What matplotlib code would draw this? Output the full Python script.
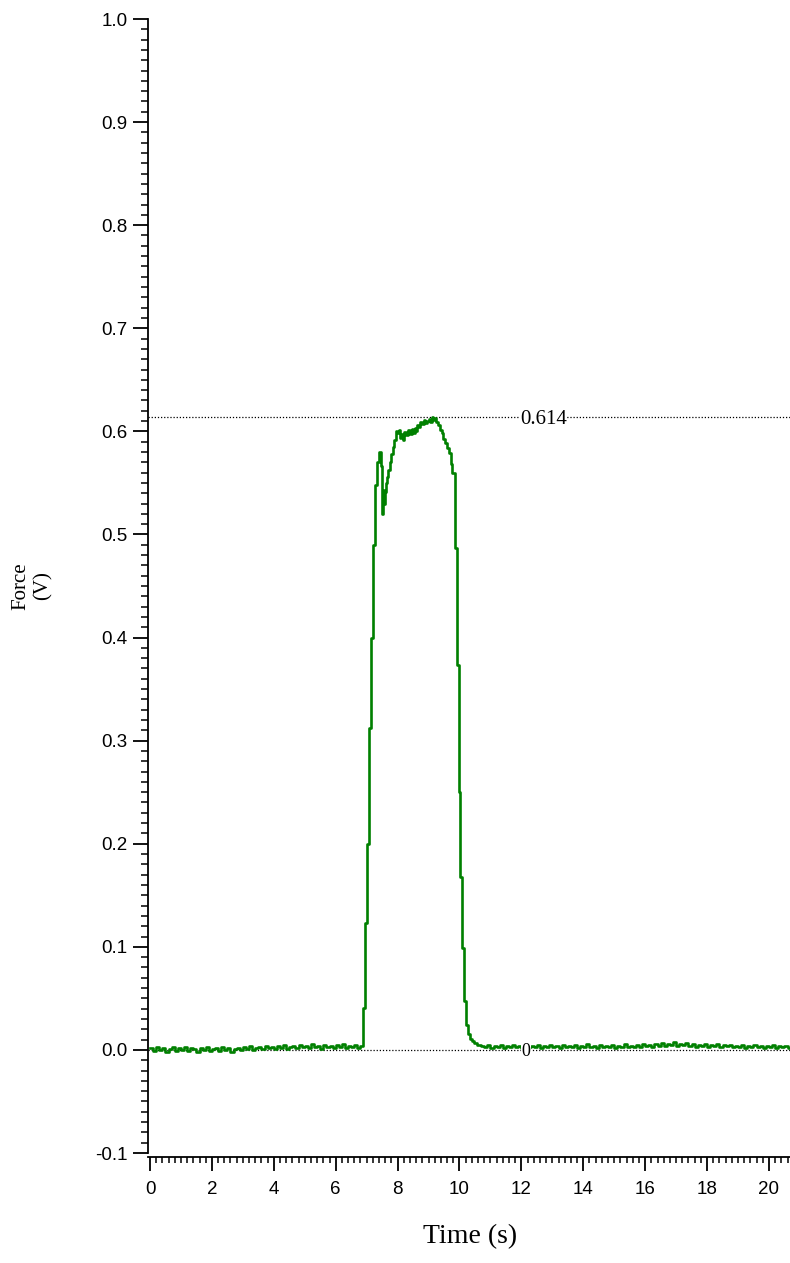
import matplotlib
matplotlib.use("Agg")
import matplotlib.pyplot as plt
import numpy as np
from matplotlib.ticker import MultipleLocator

# baseline before the press, sampled every 0.1 s from 0.0 to 6.8 s
pre_t = np.round(np.arange(0.0, 6.85, 0.1), 2)
pre_v = [0.002, -0.001, 0.003, 0.000, 0.002, -0.002, 0.001, 0.003, -0.001, 0.002,
         0.000, 0.003, -0.001, 0.002, 0.001, -0.002, 0.002, 0.000, 0.003, -0.001,
         0.001, 0.002, -0.001, 0.003, 0.000, 0.002, -0.002, 0.001, 0.002, 0.000,
         0.003, 0.001, 0.004, 0.000, 0.002, 0.003, 0.001, 0.004, 0.002, 0.003,
         0.001, 0.004, 0.002, 0.005, 0.001, 0.003, 0.004, 0.002, 0.005, 0.003,
         0.004, 0.002, 0.006, 0.003, 0.004, 0.001, 0.005, 0.003, 0.004, 0.002,
         0.005, 0.003, 0.006, 0.002, 0.004, 0.003, 0.005, 0.002, 0.004]

# the press itself
peak_t = [6.88, 6.95, 7.00, 7.08, 7.14, 7.19, 7.21, 7.27, 7.34, 7.40,
          7.45, 7.50, 7.53, 7.56, 7.59, 7.62, 7.66, 7.70, 7.75, 7.80,
          7.85, 7.90, 7.95, 7.98, 8.03, 8.08, 8.12, 8.17, 8.22, 8.28,
          8.34, 8.40, 8.45, 8.50, 8.55, 8.60, 8.63, 8.68, 8.74, 8.79,
          8.85, 8.90, 8.95, 9.00, 9.05, 9.10, 9.14, 9.19, 9.25, 9.31,
          9.36, 9.42, 9.47, 9.53, 9.60, 9.66, 9.72, 9.76, 9.85, 9.92,
          9.97, 10.02, 10.07, 10.15, 10.21, 10.27, 10.33, 10.40, 10.47, 10.57]
peak_v = [0.041, 0.123, 0.200, 0.312, 0.400, 0.470, 0.490, 0.548, 0.570, 0.580,
          0.566, 0.520, 0.543, 0.530, 0.541, 0.550, 0.556, 0.563, 0.570, 0.578,
          0.585, 0.592, 0.600, 0.598, 0.601, 0.594, 0.597, 0.592, 0.599, 0.596,
          0.601, 0.597, 0.602, 0.598, 0.603, 0.600, 0.606, 0.604, 0.609, 0.607,
          0.611, 0.608, 0.610, 0.612, 0.609, 0.614, 0.611, 0.613, 0.609, 0.606,
          0.601, 0.598, 0.593, 0.589, 0.584, 0.579, 0.568, 0.560, 0.487, 0.373,
          0.250, 0.168, 0.099, 0.047, 0.024, 0.015, 0.011, 0.009, 0.007, 0.005]

# baseline after release, every 0.1 s from 10.7 to 20.7 s
post_t = np.round(np.arange(10.7, 20.75, 0.1), 2)
post_v = [0.004, 0.003, 0.005, 0.002, 0.004, 0.003, 0.005, 0.002, 0.004, 0.003,
          0.005, 0.003, 0.004, 0.002, 0.005, 0.003, 0.004, 0.003, 0.005, 0.002,
          0.004, 0.003, 0.005, 0.003, 0.004, 0.002, 0.005, 0.003, 0.004, 0.003,
          0.005, 0.002, 0.004, 0.003, 0.006, 0.003, 0.004, 0.002, 0.005, 0.003,
          0.004, 0.003, 0.005, 0.002, 0.004, 0.003, 0.006, 0.003, 0.004, 0.003,
          0.005, 0.003, 0.006, 0.004, 0.005, 0.003, 0.006, 0.004, 0.007, 0.004,
          0.006, 0.005, 0.008, 0.004, 0.006, 0.005, 0.007, 0.004, 0.006, 0.003,
          0.005, 0.004, 0.006, 0.003, 0.005, 0.004, 0.006, 0.003, 0.005, 0.004,
          0.005, 0.003, 0.004, 0.003, 0.005, 0.002, 0.004, 0.003, 0.005, 0.003,
          0.004, 0.002, 0.004, 0.003, 0.005, 0.002, 0.004, 0.003, 0.004, 0.002,
          0.003]

max_level = 0.614
zero_level = 0.0
marker_t = 11.95

t = np.concatenate([pre_t, peak_t, post_t])
v = np.concatenate([pre_v, peak_v, post_v])

fig = plt.figure(figsize=(7.9, 12.63), dpi=100)
ax = fig.add_axes([148 / 790, 1 - 1153 / 1263, 642 / 790, (1153 - 19) / 1263])

ax.axhline(max_level, color="black", ls=(0, (1, 1.5)), lw=0.9, zorder=1)
ax.axhline(zero_level, color="black", ls=(0, (1, 1.5)), lw=0.9, zorder=1)
ax.plot(t, v, color="#008000", lw=1.9, drawstyle="steps-post", zorder=2)

ax.text(marker_t, max_level - 0.0068, "0.614", fontsize=15, family="Liberation Serif",
        ha="left", va="baseline", zorder=3,
        bbox=dict(facecolor="white", edgecolor="none", pad=0.5))
ax.text(marker_t + 0.05, zero_level - 0.006, "0", fontsize=13, family="Liberation Serif",
        ha="left", va="baseline", zorder=3,
        bbox=dict(facecolor="white", edgecolor="none", pad=0.2))

ax.set_xlim(-0.065, 20.68)
ax.set_ylim(-0.1, 1.0)
ax.spines["top"].set_visible(False)
ax.spines["right"].set_visible(False)
ax.spines["bottom"].set_position(("outward", 3))
for s in ("left", "bottom"):
    ax.spines[s].set_linewidth(1.3)

ax.xaxis.set_major_locator(MultipleLocator(2))
ax.xaxis.set_minor_locator(MultipleLocator(0.2))
ax.yaxis.set_major_locator(MultipleLocator(0.1))
ax.yaxis.set_minor_locator(MultipleLocator(0.01))
ax.set_yticks(np.round(np.arange(-0.1, 1.01, 0.1), 1))
ax.set_yticklabels(["%.1f" % y for y in np.round(np.arange(-0.1, 1.01, 0.1), 1)])

ax.tick_params(axis="x", which="major", direction="out", length=10, width=1.3, pad=7)
ax.tick_params(axis="x", which="minor", direction="out", length=4.5, width=1.1)
ax.tick_params(axis="y", which="major", direction="out", length=11, width=1.3, pad=3.5)
ax.tick_params(axis="y", which="minor", direction="out", length=5, width=1.1)
for lab in ax.get_xticklabels() + ax.get_yticklabels():
    lab.set_family("Liberation Sans")
    lab.set_fontsize(13.5)
    lab.set_color("black")

fig.text(470 / 790, 1 - 1237 / 1263, "Time (s)", fontsize=20, family="Liberation Serif",
         ha="center", va="center")
fig.text(32 / 790, 1 - 586 / 1263, "Force\n(V)", fontsize=15, family="Liberation Serif",
         ha="center", va="center", rotation=90, multialignment="center")

fig.savefig("out.png", dpi=100)
